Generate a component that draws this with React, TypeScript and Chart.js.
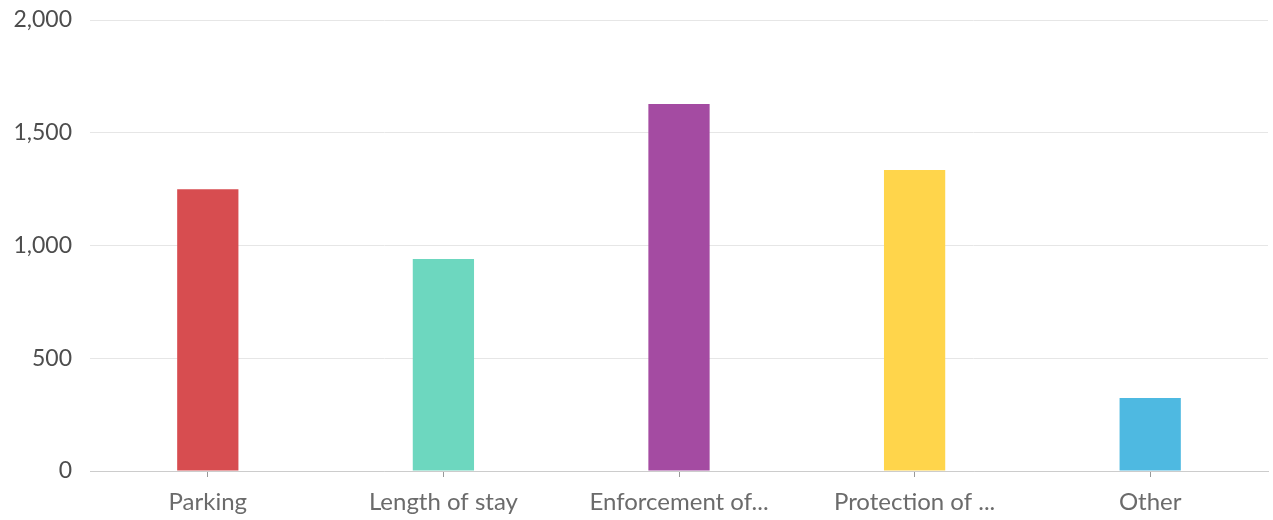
import React, { useEffect, useRef } from "react";
import { Chart, registerables } from "chart.js";

Chart.register(...registerables);

const categories = ["Parking", "Length of stay", "Enforcement of...", "Protection of ...", "Other"];
const counts = [1250, 940, 1627, 1335, 324];
const barColors = ["#d74d50", "#6dd7bf", "#a44ba2", "#ffd54b", "#4eb9e1"];
const yTicks = [0, 500, 1000, 1500, 2000];

export default function App() {
  const ref = useRef<HTMLCanvasElement | null>(null);

  useEffect(() => {
    document.body.style.margin = "0";
    const ctx = ref.current;
    if (!ctx) return;
    const chart = new Chart(ctx, {
      type: "bar",
      data: {
        labels: categories,
        datasets: [
          {
            data: counts,
            backgroundColor: barColors,
            borderWidth: 0,
            categoryPercentage: 1,
            barPercentage: 0.26,
          },
        ],
      },
      options: {
        animation: false,
        responsive: false,
        maintainAspectRatio: false,
        layout: { padding: { top: 20, right: 5, left: 0, bottom: 0 } },
        plugins: { legend: { display: false }, tooltip: { enabled: false } },
        scales: {
          x: {
            grid: {
              offset: false,
              drawOnChartArea: false,
              drawTicks: true,
              tickLength: 6,
              color: "#999999",
            },
            border: { display: true, color: "#cccccc", width: 1 },
            ticks: {
              padding: 11,
              color: "#6b6b6b",
              font: { family: "Lato", size: 24 },
              maxRotation: 0,
              autoSkip: false,
            },
            afterFit: (scale: any) => {
              scale.height = 49;
              scale.paddingTop = 0;
              scale.paddingBottom = 0;
            },
          },
          y: {
            min: 0,
            max: 2000,
            afterBuildTicks: (scale: any) => {
              scale.ticks = yTicks.map((v) => ({ value: v }));
            },
            grid: { color: "#e6e6e6", drawTicks: false, lineWidth: 1 },
            border: { display: false },
            ticks: {
              padding: 18,
              color: "#4d4d4d",
              font: { family: "Lato", size: 23 },
              callback: (v: any) => Number(v).toLocaleString("en-US"),
            },
            afterFit: (scale: any) => {
              scale.width = 90;
              scale.paddingTop = 0;
              scale.paddingBottom = 0;
            },
          },
        },
      },
    });
    return () => chart.destroy();
  }, []);

  return (
    <div style={{ width: 1273, height: 520, background: "#ffffff" }}>
      <canvas ref={ref} width={1273} height={520} style={{ width: 1273, height: 520 }} />
    </div>
  );
}
